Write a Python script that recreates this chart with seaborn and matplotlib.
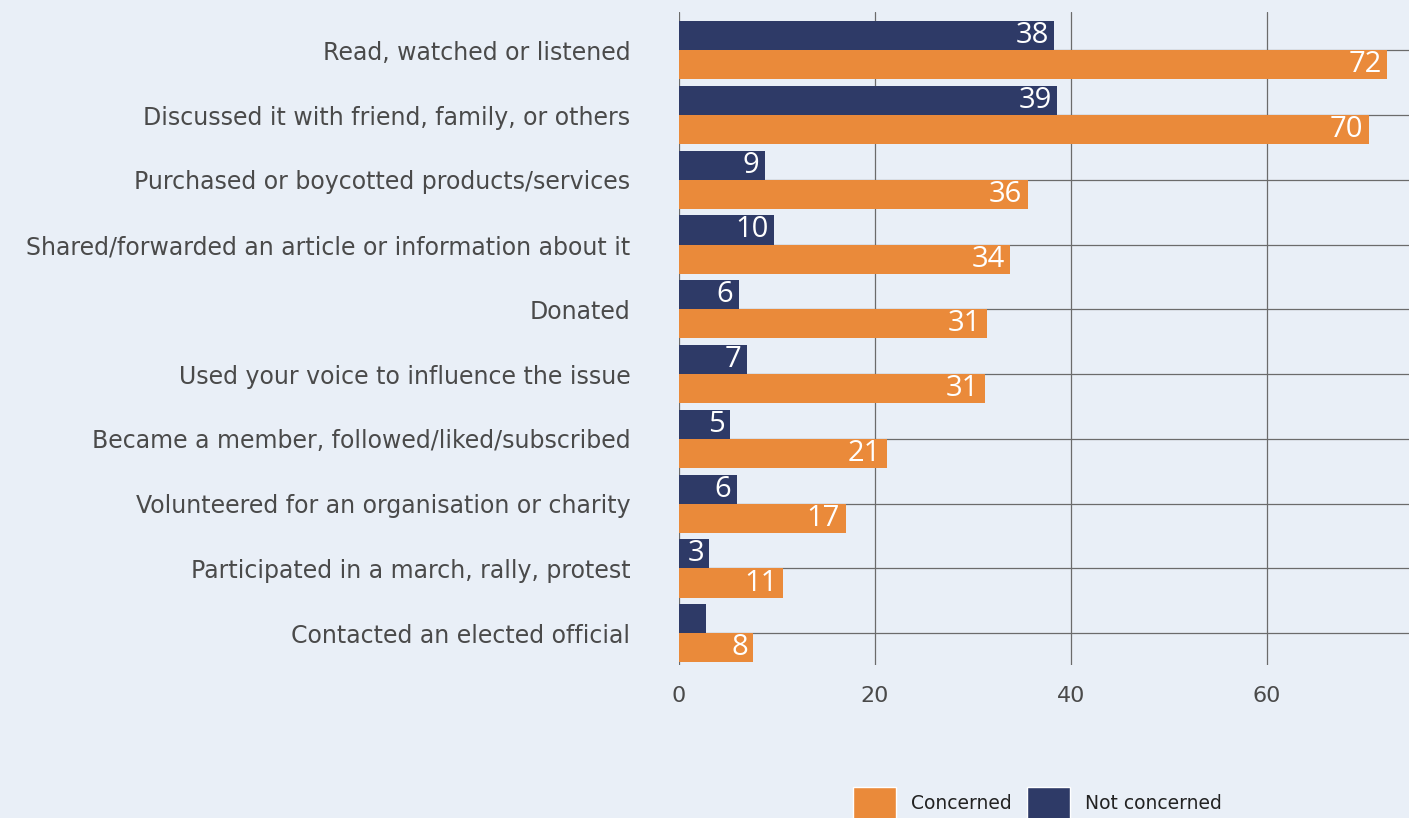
import matplotlib
matplotlib.use("Agg")
import matplotlib.pyplot as plt
import seaborn as sns
import pandas as pd
from matplotlib.patches import Patch

categories = [
    "Read, watched or listened",
    "Discussed it with friend, family, or others",
    "Purchased or boycotted products/services",
    "Shared/forwarded an article or information about it",
    "Donated",
    "Used your voice to influence the issue",
    "Became a member, followed/liked/subscribed",
    "Volunteered for an organisation or charity",
    "Participated in a march, rally, protest",
    "Contacted an elected official",
]
concerned = [72.3, 70.4, 35.6, 33.8, 31.4, 31.2, 21.2, 17.0, 10.6, 7.6]
not_concerned = [38.3, 38.6, 8.8, 9.7, 6.1, 6.9, 5.2, 5.9, 3.1, 2.8]
xticks = [0, 20, 40, 60]

BG = "#E9EFF7"
ORANGE = "#EA8A3A"
NAVY = "#2E3A67"
GRID = "#6b6b6b"

df = pd.DataFrame({
    "Activity": categories * 2,
    "Value": not_concerned + concerned,
    "Group": ["Not concerned"] * len(categories) + ["Concerned"] * len(categories),
})

sns.set_theme(style="white")
plt.rcParams["font.family"] = ["DejaVu Sans"]

fig = plt.figure(figsize=(14.09, 8.18), dpi=100, facecolor=BG)
ax = fig.add_axes([679 / 1409, 1 - 665 / 818, 1 - 679 / 1409, (665 - 12) / 818])
ax.set_facecolor(BG)

sns.barplot(
    data=df, y="Activity", x="Value", hue="Group",
    hue_order=["Not concerned", "Concerned"],
    palette={"Not concerned": NAVY, "Concerned": ORANGE},
    order=categories, orient="h", width=0.9, ax=ax, legend=False,
    saturation=1, linewidth=0,
)

for cont in ax.containers:
    labels = [f"{v:.0f}" if v >= 3 else "" for v in cont.datavalues]
    ax.bar_label(cont, labels=labels, padding=-4, color="white",
                 fontsize=21, label_type="edge", family="Open Sans")
for t in ax.texts:
    t.set_ha("right")

ax.set_xlim(0, 74.5)
ax.set_ylim(9.49, -0.59)
ax.set_xticks(xticks)
ax.set_xlabel("")
ax.set_ylabel("")
ax.set_axisbelow(True)
ax.grid(True, axis="both", color=GRID, linewidth=0.9)
for s in ax.spines.values():
    s.set_visible(False)
ax.tick_params(axis="y", length=26, width=0.9, color=GRID, pad=9,
               labelsize=17, labelcolor="#4a4a4a")
ax.tick_params(axis="x", length=0, pad=15, labelsize=16, labelcolor="#4a4a4a")

handles = [Patch(facecolor=ORANGE, label="Concerned"),
           Patch(facecolor=NAVY, label="Not concerned")]
fig.legend(handles=handles, loc="center left", bbox_to_anchor=(836 / 1409, 1 - 803 / 818),
           ncol=2, frameon=False, fontsize=13.5, handlelength=2.3, handleheight=2.3,
           handletextpad=0.8, columnspacing=0.8, labelcolor="#222222")

fig.savefig("out.png", dpi=100, facecolor=BG)
